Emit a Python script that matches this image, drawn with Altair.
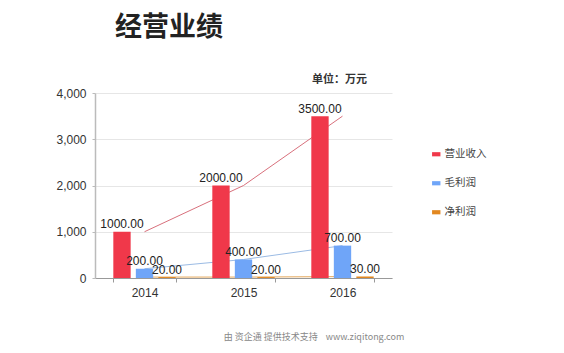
import altair as alt
import pandas as pd

years = ["2014", "2015", "2016"]
series = ["营业收入", "毛利润", "净利润"]
revenue = [1000, 2000, 3500]
gross = [200, 400, 700]
net = [20, 20, 30]
colors = ["#F0384A", "#6FA5F8", "#E2871F"]
line_colors = ["#D8707C", "#9BBBE4", "#E4A85C"]

rows = []
for s, vals in zip(series, [revenue, gross, net]):
    for y, v in zip(years, vals):
        rows.append({"year": y, "series": s, "value": v, "label": f"{v:.2f}"})
df = pd.DataFrame(rows)

x_enc = alt.X("year:N", sort=years,
              scale=alt.Scale(paddingInner=0.37, paddingOuter=0.185),
              axis=alt.Axis(title=None, labelAngle=0, labelFontSize=12, labelColor="#333",
                            labelFont="Liberation Sans", tickBand="extent", tickSize=4,
                            domainColor="#999", tickColor="#999", labelPadding=5))
y_enc = alt.Y("value:Q", scale=alt.Scale(domain=[0, 4000]),
              axis=alt.Axis(title=None, values=[0, 1000, 2000, 3000, 4000], format=",.0f",
                            labelFontSize=12, labelColor="#333", labelFont="Liberation Sans",
                            gridColor="#E6E6E6", domainColor="#BBBBBB", domainWidth=1.5,
                            tickColor="#BBBBBB", tickSize=3, labelPadding=6))
xoff = alt.XOffset("series:N", sort=series, scale=alt.Scale(paddingInner=0.23, paddingOuter=0))
color_enc = alt.Color("series:N", sort=series,
                      scale=alt.Scale(domain=series, range=colors),
                      legend=alt.Legend(title=None, orient="none", legendX=336, legendY=56,
                                        symbolType="M-1,-0.5L1,-0.5L1,0.5L-1,0.5Z",
                                        symbolSize=70, symbolStrokeWidth=0,
                                        labelFontSize=10.5, labelColor="#444",
                                        labelFont="Noto Sans CJK SC", rowPadding=18,
                                        labelOffset=3))

base = alt.Chart(df)

lines = base.mark_line(strokeWidth=1).encode(
    x=x_enc, y=y_enc,
    stroke=alt.Stroke("series:N", sort=series,
                      scale=alt.Scale(domain=series, range=line_colors), legend=None),
    detail="series:N",
)

bars = base.mark_bar().encode(x=x_enc, xOffset=xoff, y=y_enc, color=color_enc)

labels = base.mark_text(baseline="bottom", dy=-0.5, fontSize=12, color="#222",
                        font="Liberation Sans").encode(
    x=x_enc, xOffset=xoff, y=y_enc, text="label:N")

unit = alt.Chart(pd.DataFrame({"t": ["单位：万元"]})).mark_text(
    align="right", baseline="middle", fontSize=11, fontWeight="bold", color="#333",
    font="Noto Sans CJK SC").encode(x=alt.value(272), y=alt.value(-13), text="t:N")

footer_text = "由 资企通 提供技术支持\u00a0\u00a0\u00a0\u00a0www.ziqitong.com"
footer = alt.Chart(pd.DataFrame({"t": [footer_text]})).mark_text(
    align="center", baseline="middle", fontSize=9, color="#888",
    font="Noto Sans CJK SC").encode(x=alt.value(219), y=alt.value(244), text="t:N")

chart = alt.layer(lines, bars, labels, unit, footer).properties(
    width=297, height=185,
    autosize=alt.AutoSizeParams(type="none"),
    padding={"left": 95, "top": 93, "right": 172, "bottom": 75},
    title=alt.TitleParams("经营业绩", anchor="start", dx=59, offset=32, fontSize=27,
                          fontWeight="bold", color="#222", font="Noto Sans CJK SC"),
).resolve_scale(color="independent", stroke="independent").configure_view(stroke=None)

chart.save("out.html", embed_options={"renderer": "svg", "actions": False})
